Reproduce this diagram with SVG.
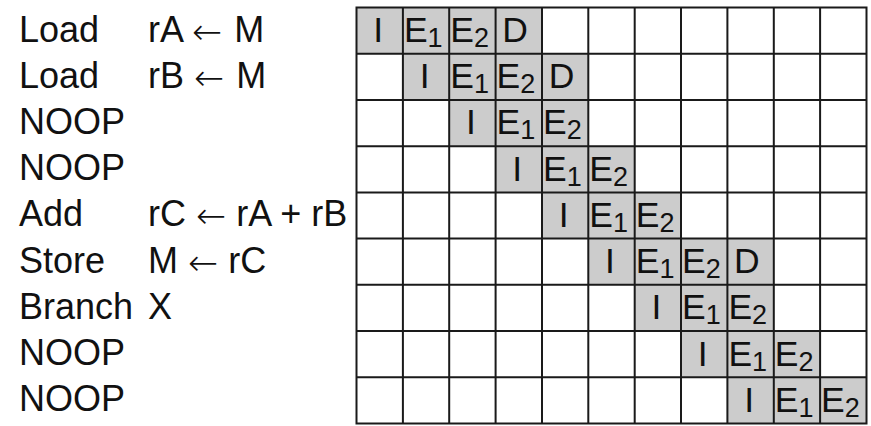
<svg xmlns="http://www.w3.org/2000/svg" width="871" height="426" viewBox="0 0 871 426">
  <style>
    .lbl { font-family: "Liberation Sans", Arial, sans-serif; font-size: 36px; fill: #111; }
    .arr { font-family: "DejaVu Sans", sans-serif; font-weight: 200; }
    .st { font-family: "Liberation Sans", Arial, sans-serif; font-size: 35.5px; fill: #111; }
    .mid { text-anchor: middle; }
    .sub { font-size: 27px; }
    .busy { fill: #cccccc; }
    .grid { fill: none; stroke: #1a1a1a; stroke-width: 2; }
  </style>
  <rect width="871" height="426" fill="#ffffff"/>

  <!-- occupied pipeline slots -->
  <g id="slots">
    <rect class="busy" x="356.5" y="7.5" width="185.5" height="46.2"/>
    <rect class="busy" x="402.9" y="53.7" width="185.4" height="46.2"/>
    <rect class="busy" x="449.2" y="99.9" width="139.1" height="46.3"/>
    <rect class="busy" x="495.6" y="146.2" width="139.1" height="46.2"/>
    <rect class="busy" x="542" y="192.4" width="139" height="46.2"/>
    <rect class="busy" x="588.3" y="238.6" width="185.5" height="46.2"/>
    <rect class="busy" x="634.7" y="284.8" width="139.1" height="46.3"/>
    <rect class="busy" x="681" y="331.1" width="139.1" height="46.2"/>
    <rect class="busy" x="727.4" y="377.3" width="139.1" height="46.2"/>
  </g>

  <!-- timing grid: 11 cycles x 9 instructions -->
  <path class="grid" d="M356.5 7.5H866.5V423.5H356.5Z
    M402.9 7.5V423.5 M449.2 7.5V423.5 M495.6 7.5V423.5 M542 7.5V423.5 M588.3 7.5V423.5
    M634.7 7.5V423.5 M681 7.5V423.5 M727.4 7.5V423.5 M773.8 7.5V423.5 M820.1 7.5V423.5
    M356.5 53.7H866.5 M356.5 99.9H866.5 M356.5 146.2H866.5 M356.5 192.4H866.5
    M356.5 238.6H866.5 M356.5 284.8H866.5 M356.5 331.1H866.5 M356.5 377.3H866.5"/>

  <g id="row1">
    <text class="lbl" x="19" y="41.5">Load</text>
    <text class="lbl" x="148" y="41.5">rA <tspan class="arr" dy="2">←</tspan><tspan dy="-2" dx="2"> M</tspan></text>
    <text class="st mid" x="378.2" y="42">I</text>
    <text class="st" x="403.9" y="42">E<tspan class="sub" dy="5">1</tspan></text>
    <text class="st" x="450.2" y="42">E<tspan class="sub" dy="5">2</tspan></text>
    <text class="st" x="502.3" y="42">D</text>
  </g>
  <g id="row2">
    <text class="lbl" x="19" y="87.7">Load</text>
    <text class="lbl" x="148" y="87.7">rB <tspan class="arr" dy="2">←</tspan><tspan dy="-2" dx="2"> M</tspan></text>
    <text class="st mid" x="424.6" y="88.2">I</text>
    <text class="st" x="450.2" y="88.2">E<tspan class="sub" dy="5">1</tspan></text>
    <text class="st" x="496.6" y="88.2">E<tspan class="sub" dy="5">2</tspan></text>
    <text class="st" x="548.7" y="88.2">D</text>
  </g>
  <g id="row3">
    <text class="lbl" x="19" y="133.9">NOOP</text>
    <text class="st mid" x="470.9" y="134.4">I</text>
    <text class="st" x="496.6" y="134.4">E<tspan class="sub" dy="5">1</tspan></text>
    <text class="st" x="543" y="134.4">E<tspan class="sub" dy="5">2</tspan></text>
  </g>
  <g id="row4">
    <text class="lbl" x="19" y="180.2">NOOP</text>
    <text class="st mid" x="517.3" y="180.7">I</text>
    <text class="st" x="543" y="180.7">E<tspan class="sub" dy="5">1</tspan></text>
    <text class="st" x="589.3" y="180.7">E<tspan class="sub" dy="5">2</tspan></text>
  </g>
  <g id="row5">
    <text class="lbl" x="19" y="226.4">Add</text>
    <text class="lbl" x="148" y="226.4">rC <tspan class="arr" dy="2">←</tspan><tspan dy="-2"> rA + rB</tspan></text>
    <text class="st mid" x="563.7" y="226.9">I</text>
    <text class="st" x="589.3" y="226.9">E<tspan class="sub" dy="5">1</tspan></text>
    <text class="st" x="635.7" y="226.9">E<tspan class="sub" dy="5">2</tspan></text>
  </g>
  <g id="row6">
    <text class="lbl" x="19" y="272.6">Store</text>
    <text class="lbl" x="148" y="272.6">M <tspan class="arr" dy="2">←</tspan><tspan dy="-2"> rC</tspan></text>
    <text class="st mid" x="610" y="273.1">I</text>
    <text class="st" x="635.7" y="273.1">E<tspan class="sub" dy="5">1</tspan></text>
    <text class="st" x="682" y="273.1">E<tspan class="sub" dy="5">2</tspan></text>
    <text class="st" x="734.1" y="273.1">D</text>
  </g>
  <g id="row7">
    <text class="lbl" x="19" y="318.8">Branch</text>
    <text class="lbl" x="148" y="318.8">X</text>
    <text class="st mid" x="656.4" y="319.3">I</text>
    <text class="st" x="682" y="319.3">E<tspan class="sub" dy="5">1</tspan></text>
    <text class="st" x="728.4" y="319.3">E<tspan class="sub" dy="5">2</tspan></text>
  </g>
  <g id="row8">
    <text class="lbl" x="19" y="365.1">NOOP</text>
    <text class="st mid" x="702.7" y="365.6">I</text>
    <text class="st" x="728.4" y="365.6">E<tspan class="sub" dy="5">1</tspan></text>
    <text class="st" x="774.8" y="365.6">E<tspan class="sub" dy="5">2</tspan></text>
  </g>
  <g id="row9">
    <text class="lbl" x="19" y="411.3">NOOP</text>
    <text class="st mid" x="749.1" y="411.8">I</text>
    <text class="st" x="774.8" y="411.8">E<tspan class="sub" dy="5">1</tspan></text>
    <text class="st" x="821.1" y="411.8">E<tspan class="sub" dy="5">2</tspan></text>
  </g>
</svg>
